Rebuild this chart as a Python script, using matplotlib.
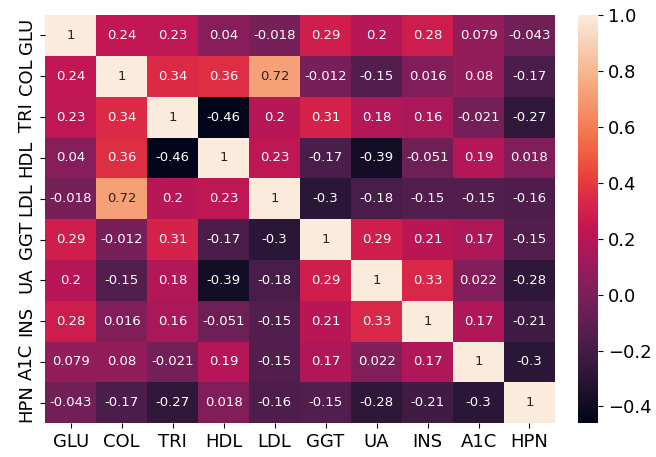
import numpy as np
import matplotlib
matplotlib.use("Agg")
import matplotlib.pyplot as plt
import seaborn as sns

labels = ["GLU", "COL", "TRI", "HDL", "LDL", "GGT", "UA", "INS", "A1C", "HPN"]

corr = [
    [1, 0.24, 0.23, 0.04, -0.018, 0.29, 0.2, 0.28, 0.079, -0.043],
    [0.24, 1, 0.34, 0.36, 0.72, -0.012, -0.15, 0.016, 0.08, -0.17],
    [0.23, 0.34, 1, -0.46, 0.2, 0.31, 0.18, 0.16, -0.021, -0.27],
    [0.04, 0.36, -0.46, 1, 0.23, -0.17, -0.39, -0.051, 0.19, 0.018],
    [-0.018, 0.72, 0.2, 0.23, 1, -0.3, -0.18, -0.15, -0.15, -0.16],
    [0.29, -0.012, 0.31, -0.17, -0.3, 1, 0.29, 0.21, 0.17, -0.15],
    [0.2, -0.15, 0.18, -0.39, -0.18, 0.29, 1, 0.33, 0.022, -0.28],
    [0.28, 0.016, 0.16, -0.051, -0.15, 0.21, 0.33, 1, 0.17, -0.21],
    [0.079, 0.08, -0.021, 0.19, -0.15, 0.17, 0.022, 0.17, 1, -0.3],
    [-0.043, -0.17, -0.27, 0.018, -0.16, -0.15, -0.28, -0.21, -0.3, 1],
]

fig = plt.figure(figsize=(6.56, 4.57), dpi=100)
ax = fig.add_axes([0.069, 0.074, 0.777, 0.893])
cax = fig.add_axes([0.881, 0.074, 0.031, 0.893])

sns.heatmap(np.array(corr), annot=True, ax=ax, cbar_ax=cax,
            xticklabels=labels, yticklabels=labels,
            annot_kws={"fontsize": 9.5})

ax.tick_params(axis="both", labelsize=13)
ax.set_yticklabels(labels, rotation=90, va="center")
cax.tick_params(labelsize=13)
cax.set_yticks([-0.4, -0.2, 0.0, 0.2, 0.4, 0.6, 0.8, 1.0])

fig.savefig("out.png", dpi=100)
